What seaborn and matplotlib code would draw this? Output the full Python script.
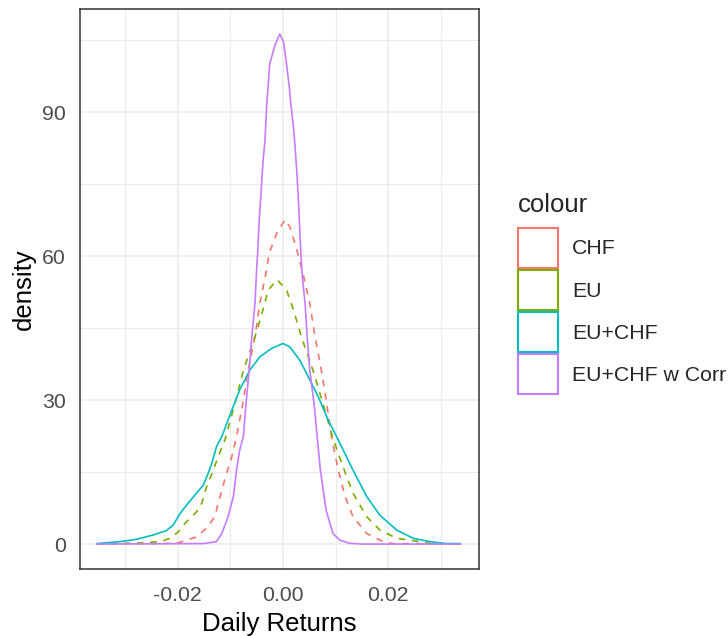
import pandas as pd
import matplotlib.pyplot as plt
import seaborn as sns
from matplotlib.patches import Patch

# Curvas de densidad (x = retorno diario, y = densidad)
chf_x = [-0.0353, -0.0202, -0.0183, -0.0164, -0.0145, -0.0129, -0.0123, -0.0116, -0.0107,
         -0.0097, -0.0088, -0.0076, -0.0066, -0.0053, -0.0044, -0.0032, -0.0026, -0.0012,
         0.0004, 0.0013, 0.0025, 0.0038, 0.0051, 0.0061, 0.0073, 0.0083, 0.0092, 0.0105,
         0.0118, 0.0133, 0.0159, 0.0190, 0.0209, 0.0337]
chf_y = [0, 0.15, 0.8, 1.5, 3.3, 5.7, 8.5, 11.2, 14.7,
         18.2, 22.4, 29.3, 36.2, 43.2, 50.1, 56.6, 60.6, 64.7,
         67.6, 66.1, 61.9, 56.4, 50.1, 43.2, 36.2, 29.3, 22.4, 15.4,
         9.9, 5.7, 2.2, 0.5, 0.1, 0]

eu_x = [-0.0353, -0.0277, -0.0233, -0.0214, -0.0198, -0.0186, -0.0164, -0.0154, -0.0145,
        -0.0132, -0.0123, -0.0110, -0.0091, -0.0075, -0.0053, -0.0038, -0.0028, -0.0011,
        0.0007, 0.0020, 0.0035, 0.0057, 0.0076, 0.0095, 0.0114, 0.0133, 0.0159, 0.0184,
        0.0216, 0.0260, 0.0280, 0.0337]
eu_y = [0, 0.2, 0.5, 1.2, 2.6, 4.3, 6.7, 8.5, 11.9,
        15.4, 18.2, 21.7, 29.3, 36.2, 43.2, 48.8, 52.9, 55.1,
        52.9, 48.8, 43.2, 36.2, 29.3, 22.0, 16.1, 10.6, 5.7, 2.9,
        1.2, 0.5, 0.1, 0]

euchf_x = [-0.0353, -0.0309, -0.0277, -0.0246, -0.0221, -0.0208, -0.0195, -0.0183, -0.0164,
           -0.0151, -0.0142, -0.0135, -0.0126, -0.0116, -0.0097, -0.0082, -0.0063, -0.0044,
           -0.0021, 0.0000, 0.0013, 0.0032, 0.0048, 0.0067, 0.0086, 0.0105, 0.0133, 0.0159,
           0.0184, 0.0216, 0.0247, 0.0279, 0.0310, 0.0337]
euchf_y = [0.1, 0.5, 1.0, 1.9, 2.8, 4.0, 6.4, 8.1, 10.6,
           12.3, 14.7, 16.8, 20.3, 22.4, 27.9, 32.1, 36.2, 39.0,
           40.8, 41.8, 41.1, 38.3, 34.9, 30.7, 25.8, 21.7, 15.4, 9.9,
           6.0, 2.9, 1.2, 0.5, 0.1, 0.1]

corr_x = [-0.0353, -0.0151, -0.0126, -0.0116, -0.0104, -0.0094, -0.0088, -0.0082, -0.0075,
          -0.0070, -0.0064, -0.0059, -0.0053, -0.0050, -0.0048, -0.0045, -0.0042, -0.0038,
          -0.0034, -0.0031, -0.0028, -0.0025, -0.0015, -0.0006, 0.0001, 0.0006, 0.0012,
          0.0015, 0.0020, 0.0023, 0.0027, 0.0030, 0.0034, 0.0037, 0.0042, 0.0046, 0.0051,
          0.0059, 0.0065, 0.0071, 0.0082, 0.0095, 0.0108, 0.0127, 0.0150, 0.0337]
corr_y = [0, 0.1, 0.5, 2.2, 5.7, 9.9, 15.4, 19.6, 22.4,
          29.3, 36.2, 43.2, 50.2, 57.0, 60.6, 67.5, 72.4, 79.4,
          84.2, 91.1, 95.6, 100.1, 104.0, 106.3, 104.7, 100.8, 95.3,
          91.8, 86.9, 82.8, 76.5, 70.3, 60.6, 55.5, 50.2, 43.2, 36.2,
          29.3, 22.4, 15.4, 7.0, 2.2, 0.8, 0.15, 0, 0]

series = ['CHF', 'EU', 'EU+CHF', 'EU+CHF w Corr']
colores = ['#F8766D', '#7CAE00', '#00BFC4', '#C77CFF']

# Tabla larga para seaborn
df = pd.concat([
    pd.DataFrame({'x': chf_x, 'density': chf_y, 'colour': series[0]}),
    pd.DataFrame({'x': eu_x, 'density': eu_y, 'colour': series[1]}),
    pd.DataFrame({'x': euchf_x, 'density': euchf_y, 'colour': series[2]}),
    pd.DataFrame({'x': corr_x, 'density': corr_y, 'colour': series[3]}),
], ignore_index=True)

sns.set_style('white')
plt.rcParams['font.family'] = ['Liberation Sans', 'DejaVu Sans']

fig = plt.figure(figsize=(7.28, 6.36), dpi=100)
ax = fig.add_axes([80 / 728, 1 - 569 / 636, 399 / 728, 560 / 636])

paleta = dict(zip(series, colores))
guiones = {'CHF': (4, 4), 'EU': (4, 4), 'EU+CHF': '', 'EU+CHF w Corr': ''}
sns.lineplot(data=df, x='x', y='density', hue='colour', style='colour',
             hue_order=series, style_order=series, palette=paleta, dashes=guiones,
             estimator=None, linewidth=1.2, legend=False, ax=ax)

# Estilo tipo theme_bw
ax.set_xlim(-0.0385, 0.0372)
ax.set_ylim(-5.2, 111.5)
ax.set_xticks([-0.02, 0.0, 0.02])
ax.set_xticklabels(['-0.02', '0.00', '0.02'])
ax.set_xticks([-0.03, -0.01, 0.01, 0.03], minor=True)
ax.set_yticks([0, 30, 60, 90])
ax.set_yticks([15, 45, 75, 105], minor=True)
ax.set_axisbelow(True)
ax.grid(which='major', color='#EBEBEB', linewidth=1.1)
ax.grid(which='minor', color='#EBEBEB', linewidth=0.8)
for s in ax.spines.values():
    s.set_color('#333333')
    s.set_linewidth(1.1)
ax.tick_params(which='major', length=5, width=1.1, color='#333333',
               labelcolor='#4D4D4D', labelsize=15.3)
ax.tick_params(axis='x', which='major', pad=7)
ax.tick_params(axis='y', which='major', pad=5)
ax.tick_params(which='minor', length=0)
ax.set_xlabel('Daily Returns', fontsize=18.5, color='black', labelpad=5)
ax.set_ylabel('density', fontsize=18.5, color='black', labelpad=5)

# Leyenda con cajas de contorno
fig.text(518 / 728, 1 - 205 / 636, 'colour', fontsize=18.5, ha='left', va='center')
handles = [Patch(facecolor='white', edgecolor=c, linewidth=1.5) for c in colores]
leg = fig.legend(handles, series, loc='upper left', bbox_to_anchor=(518 / 728, 1 - 228 / 636),
                 frameon=False, fontsize=15.3,
                 handlelength=1.88, handleheight=2.52, labelspacing=0.1,
                 handletextpad=0.66, borderpad=0, borderaxespad=0)

fig.savefig('out.png', dpi=100)
plt.close()
